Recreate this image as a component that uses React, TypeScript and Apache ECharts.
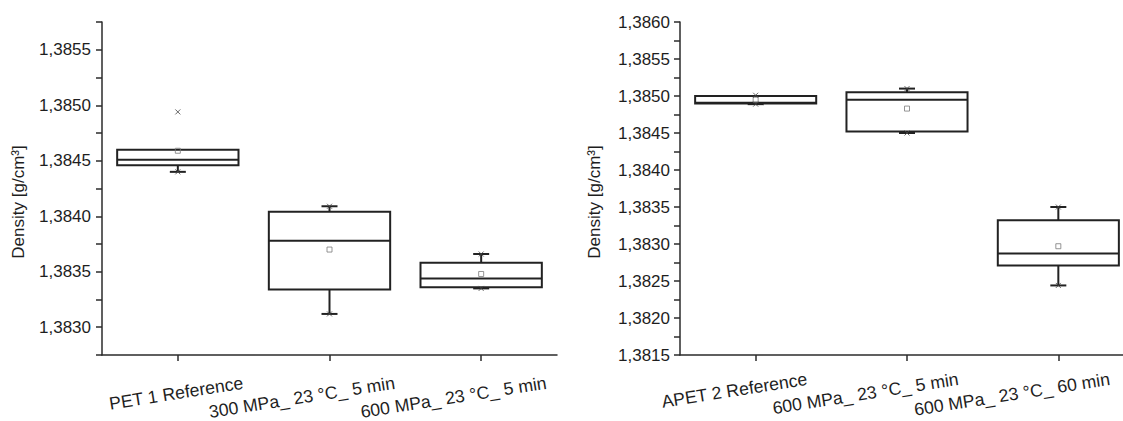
import React, { useEffect, useRef } from "react";
import * as echarts from "echarts";

// Left panel: PET 1
const categoriesA = ["PET 1 Reference", "300 MPa_ 23 °C_ 5 min", "600 MPa_ 23 °C_ 5 min"];
const whiskerLowA = [1.3844, 1.38312, 1.38335];
const q1A = [1.38446, 1.38334, 1.38336];
const medianA = [1.38451, 1.38378, 1.38344];
const q3A = [1.3846, 1.38404, 1.38358];
const whiskerHighA = [1.3846, 1.38409, 1.38366];
const meanA = [1.38459, 1.3837, 1.38348];
const minA = [1.3844, 1.38312, 1.38335];
const maxA = [1.38494, 1.38409, 1.38366];

// Right panel: APET 2
const categoriesB = ["APET 2 Reference", "600 MPa_ 23 °C_ 5 min", "600 MPa_ 23 °C_ 60 min"];
const whiskerLowB = [1.38489, 1.3845, 1.38244];
const q1B = [1.3849, 1.38452, 1.38271];
const medianB = [1.38491, 1.38495, 1.38287];
const q3B = [1.385, 1.38505, 1.38332];
const whiskerHighB = [1.385, 1.3851, 1.3835];
const meanB = [1.38495, 1.38483, 1.38297];
const minB = [1.38489, 1.3845, 1.38244];
const maxB = [1.38501, 1.3851, 1.3835];

const FONT = "'Liberation Sans', Arial, sans-serif";
const INK = "#1e1e1e";
const AXIS = "#2b2b2b";
const CROSS = "path://M0,0L10,10M10,0L0,10";

function boxRows(lo: number[], q1: number[], med: number[], q3: number[], hi: number[]) {
  return lo.map((_, i) => [i, lo[i], q1[i], med[i], q3[i], hi[i]]);
}

function renderBox(params: any, api: any) {
  const idx = api.value(0);
  const lo = api.coord([idx, api.value(1)]);
  const q1 = api.coord([idx, api.value(2)]);
  const med = api.coord([idx, api.value(3)]);
  const q3 = api.coord([idx, api.value(4)]);
  const hi = api.coord([idx, api.value(5)]);
  const band = api.size([1, 0])[0];
  const half = band * 0.4;
  const cap = 8;
  const x = q1[0];
  const stroke = { stroke: "#222", lineWidth: 2 };
  const children: any[] = [];
  if (q3[1] - hi[1] > 0.5) {
    children.push({ type: "line", shape: { x1: x, y1: q3[1], x2: x, y2: hi[1] }, style: stroke });
    children.push({ type: "line", shape: { x1: x - cap, y1: hi[1], x2: x + cap, y2: hi[1] }, style: stroke });
  }
  children.push({ type: "line", shape: { x1: x, y1: q1[1], x2: x, y2: lo[1] }, style: stroke });
  children.push({ type: "line", shape: { x1: x - cap, y1: lo[1], x2: x + cap, y2: lo[1] }, style: stroke });
  children.push({
    type: "rect",
    shape: { x: x - half, y: q3[1], width: half * 2, height: q1[1] - q3[1] },
    style: { fill: "none", ...stroke },
  });
  children.push({ type: "line", shape: { x1: x - half, y1: med[1], x2: x + half, y2: med[1] }, style: stroke });
  return { type: "group", children };
}

function tickLabel(v: number) {
  const k = v * 2000;
  if (Math.abs(k - Math.round(k)) > 1e-6) return "";
  return v.toFixed(4).replace(".", ",");
}

function xAxisFor(gridIndex: number, data: string[], margin: number, shift: number) {
  return {
    type: "category",
    gridIndex,
    data,
    boundaryGap: true,
    axisLine: { show: true, lineStyle: { color: AXIS, width: 1.5 } },
    axisTick: { show: true, alignWithLabel: true, length: 6, lineStyle: { color: AXIS, width: 1.5 } },
    axisLabel: {
      interval: 0,
      rotate: 9,
      align: "right",
      verticalAlign: "middle",
      margin,
      padding: [0, -shift, 0, 0],
      fontSize: 17.7,
      fontFamily: FONT,
      color: INK,
    },
    splitLine: { show: false },
  };
}

function yAxisFor(gridIndex: number, min: number, max: number, nameGap: number, labelMargin: number) {
  return {
    type: "value",
    gridIndex,
    min,
    max,
    interval: 0.00025,
    name: "Density [g/cm³]",
    nameLocation: "middle",
    nameGap,
    nameTextStyle: { fontSize: 17, fontFamily: FONT, color: INK, padding: [0, 27, 0, 0] },
    axisLine: { show: true, lineStyle: { color: AXIS, width: 1.5 } },
    axisTick: { show: true, length: 6, lineStyle: { color: AXIS, width: 1.5 } },
    axisLabel: { formatter: tickLabel, margin: labelMargin, fontSize: 17, fontFamily: FONT, color: INK },
    splitLine: { show: false },
  };
}

function pointSeries(xi: number, yi: number, values: number[], symbol: string, size: number, color: string) {
  return {
    type: "scatter",
    xAxisIndex: xi,
    yAxisIndex: yi,
    symbol,
    symbolSize: size,
    itemStyle: { color: "none", borderColor: color, borderWidth: 1 },
    data: values.map((v, i) => [i, v]),
    z: 5,
  };
}

export default function App() {
  const ref = useRef<HTMLDivElement>(null);

  useEffect(() => {
    if (!ref.current) return;
    const chart = echarts.init(ref.current, undefined, { renderer: "svg" });
    chart.setOption({
      animation: false,
      backgroundColor: "#ffffff",
      grid: [
        { left: 102, top: 22, width: 455, height: 333, containLabel: false, outerBoundsMode: "none" },
        { left: 680, top: 22, width: 454, height: 333, containLabel: false, outerBoundsMode: "none" },
      ],
      xAxis: [xAxisFor(0, categoriesA, 38, 66), xAxisFor(1, categoriesB, 32, 52)],
      yAxis: [yAxisFor(0, 1.38275, 1.38575, 75, 11), yAxisFor(1, 1.3815, 1.386, 77, 10)],
      series: [
        {
          type: "custom",
          xAxisIndex: 0,
          yAxisIndex: 0,
          renderItem: renderBox,
          encode: { x: 0, y: [1, 2, 3, 4, 5] },
          data: boxRows(whiskerLowA, q1A, medianA, q3A, whiskerHighA),
        },
        {
          type: "custom",
          xAxisIndex: 1,
          yAxisIndex: 1,
          renderItem: renderBox,
          encode: { x: 0, y: [1, 2, 3, 4, 5] },
          data: boxRows(whiskerLowB, q1B, medianB, q3B, whiskerHighB),
        },
        pointSeries(0, 0, meanA, "rect", 5, "#7a7a7a"),
        pointSeries(1, 1, meanB, "rect", 5, "#7a7a7a"),
        pointSeries(0, 0, minA, CROSS, 5, "#444"),
        pointSeries(0, 0, maxA, CROSS, 5, "#444"),
        pointSeries(1, 1, minB, CROSS, 5, "#444"),
        pointSeries(1, 1, maxB, CROSS, 5, "#444"),
      ],
    });
    return () => chart.dispose();
  }, []);

  return (
    <div
      ref={ref}
      style={{ position: "absolute", left: 0, top: 0, width: 1123, height: 421, background: "#fff" }}
    />
  );
}
